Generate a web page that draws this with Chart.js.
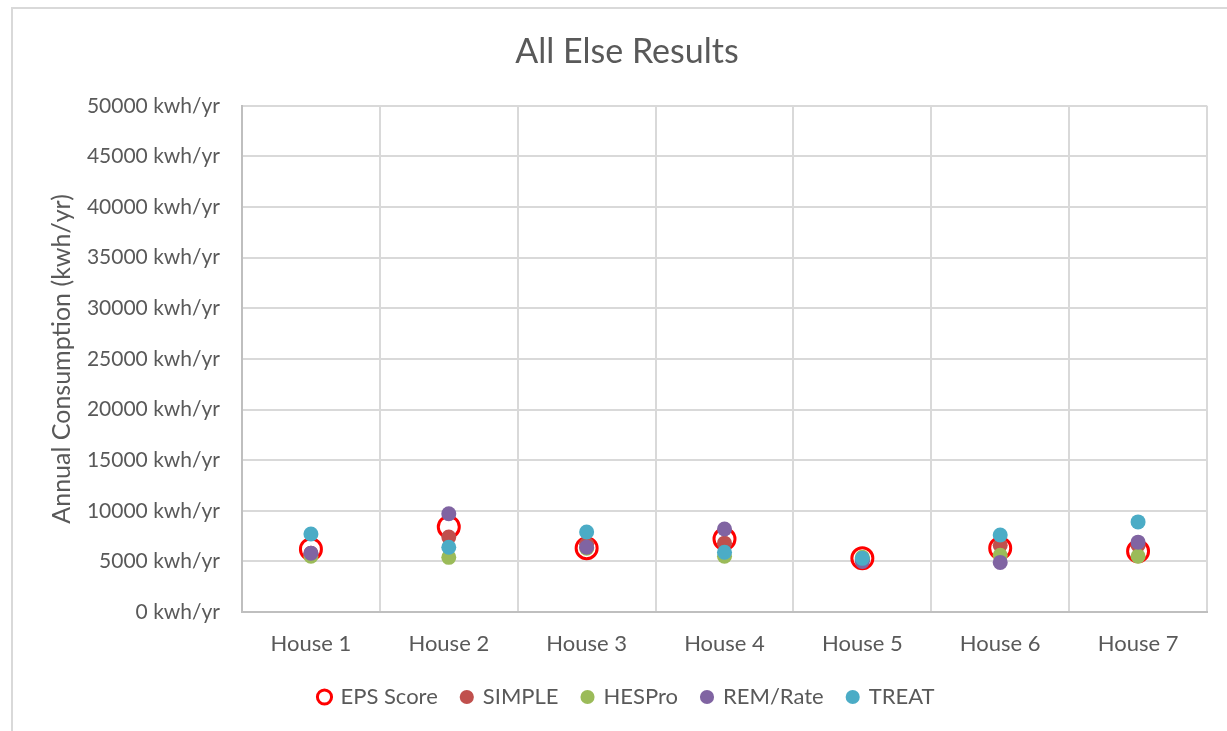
<!DOCTYPE html>
<html>
<head>
<meta charset="utf-8">
<script src="https://cdn.jsdelivr.net/npm/chart.js@4.4.1/dist/chart.umd.min.js"></script>
<style>
  html, body { margin: 0; padding: 0; background: #fff; }
  #wrap { position: relative; width: 1227px; height: 731px; overflow: hidden; }
  #frame { position: absolute; left: 11px; top: 7px; width: 1300px; height: 800px;
           border-left: 2px solid #d9d9d9; border-top: 2px solid #d9d9d9; }
  canvas { position: absolute; left: 0; top: 0; }
</style>
</head>
<body>
<div id="wrap">
  <div id="frame"></div>
  <canvas id="chart" width="1227" height="731"></canvas>
</div>
<script>
// values (kwh/yr)
const houses = ['House 1', 'House 2', 'House 3', 'House 4', 'House 5', 'House 6', 'House 7'];
const epsScore = [6200, 8400, 6300, 7200, 5300, 6300, 6000];
const simple   = [5800, 7400, 6700, 6800, 5200, 6600, 6600];
const hesPro   = [5500, 5400, 6300, 5500, 5400, 5600, 5500];
const remRate  = [5800, 9700, 6400, 8200, 5000, 4900, 6900];
const treat    = [7700, 6400, 7900, 5900, 5300, 7600, 8900];
const yTicks = { min: 0, max: 50000, step: 5000 };

const fontFam = 'Lato, "Open Sans", sans-serif';
const textCol = '#595959';

function dot(label, data, color, order) {
    return {
        label: label,
        data: data,
        showLine: false,
        backgroundColor: color,
        borderColor: color,
        borderWidth: 1,
        pointRadius: 7.5,
        pointHoverRadius: 7.5,
        pointBorderWidth: 0,
        order: order
    };
}

const ctx = document.getElementById('chart').getContext('2d');

new Chart(ctx, {
    type: 'line',
    data: {
        labels: houses,
        datasets: [
            {
                label: 'EPS Score',
                data: epsScore,
                showLine: false,
                backgroundColor: 'rgba(0,0,0,0)',
                borderColor: '#ff0000',
                borderWidth: 3,
                pointRadius: 10.5,
                pointHoverRadius: 10.5,
                pointBorderWidth: 3,
                order: 5
            },
            dot('SIMPLE', simple, '#c0504d', 4),
            dot('HESPro', hesPro, '#9bbb59', 3),
            dot('REM/Rate', remRate, '#8064a2', 2),
            dot('TREAT', treat, '#4bacc6', 1)
        ]
    },
    options: {
        responsive: false,
        animation: false,
        layout: { padding: { left: 47, right: 20, top: 0, bottom: 13 } },
        plugins: {
            tooltip: { enabled: false },
            title: {
                display: true,
                text: 'All Else Results',
                color: textCol,
                font: { family: fontFam, size: 34, weight: 'normal' },
                padding: { top: 32, bottom: 33 }
            },
            legend: {
                position: 'bottom',
                labels: {
                    usePointStyle: true,
                    pointStyle: 'circle',
                    boxWidth: 10,
                    boxHeight: 10,
                    padding: 24,
                    color: textCol,
                    font: { family: fontFam, size: 22 },
                    sort: (a, b) => a.datasetIndex - b.datasetIndex
                }
            }
        },
        scales: {
            x: {
                offset: true,
                grid: { offset: true, color: '#d9d9d9', lineWidth: 2, drawTicks: false },
                border: { color: '#bfbfbf', width: 2 },
                ticks: { color: textCol, padding: 19, font: { family: fontFam, size: 22 } },
                afterFit: s => { s.height = 50; }
            },
            y: {
                min: yTicks.min,
                max: yTicks.max,
                grid: { color: '#d9d9d9', lineWidth: 2, drawTicks: false },
                border: { color: '#bfbfbf', width: 2 },
                ticks: {
                    stepSize: yTicks.step,
                    color: textCol,
                    padding: 22,
                    font: { family: fontFam, size: 21 },
                    callback: v => v + ' kwh/yr'
                },
                title: {
                    display: true,
                    text: 'Annual Consumption (kwh/yr)',
                    color: textCol,
                    padding: 0,
                    font: { family: fontFam, size: 25 }
                },
                afterFit: s => { s.width = 195; }
            }
        }
    }
});
</script>
</body>
</html>
